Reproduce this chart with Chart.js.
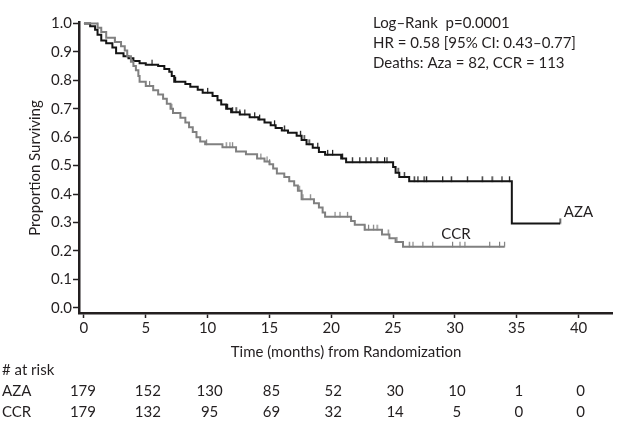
<!DOCTYPE html>
<html>
<head>
<meta charset="utf-8">
<script src="https://cdn.jsdelivr.net/npm/chart.js@4/dist/chart.umd.min.js"></script>
<style>
  html, body { margin: 0; padding: 0; background: #fff; }
  #wrap { width: 619px; height: 426px; position: relative; }
</style>
</head>
<body>
<div id="wrap"><canvas id="c"></canvas></div>
<script>
// ---- Data (Kaplan–Meier step estimates) ----
const azaTimes = [0, 0.5, 0.9, 1.1, 1.4, 1.8, 2.3, 2.6, 3.2, 3.6, 4.0, 4.5, 5.0, 6.0, 6.5, 6.9, 7.1, 7.3, 8.2, 8.6, 9.2, 9.6, 10.4, 10.8, 11.1, 11.5, 11.9, 12.6, 13.4, 14.1, 14.6, 15.1, 15.5, 16.0, 16.5, 17.2, 17.6, 18.0, 18.5, 19.0, 19.5, 20.8, 21.2, 25.0, 25.2, 25.5, 26.3, 34.6, 38.5];
const azaSurv  = [1.0, 0.99, 0.978, 0.96, 0.94, 0.93, 0.915, 0.895, 0.885, 0.878, 0.868, 0.86, 0.855, 0.85, 0.84, 0.83, 0.815, 0.795, 0.787, 0.777, 0.767, 0.756, 0.745, 0.73, 0.715, 0.70, 0.688, 0.68, 0.67, 0.662, 0.652, 0.642, 0.632, 0.624, 0.616, 0.605, 0.59, 0.575, 0.563, 0.548, 0.538, 0.525, 0.512, 0.495, 0.475, 0.46, 0.445, 0.297, 0.297];
const azaCensored = [5.5, 7.4, 10.0, 11.6, 12.0, 12.3, 12.6, 13.0, 13.8, 14.2, 15.4, 16.2, 17.5, 17.8, 18.2, 18.9, 19.7, 20.1, 20.9, 21.7, 22.3, 22.8, 23.2, 23.7, 24.3, 24.5, 25.4, 25.9, 26.7, 27.0, 27.5, 27.7, 29.0, 29.7, 31.0, 32.2, 33.0, 33.8, 34.4, 38.5];

const ccrTimes = [0, 1.1, 1.4, 1.8, 2.5, 3.0, 3.3, 3.5, 3.8, 4.0, 4.2, 4.4, 4.5, 5.0, 5.6, 6.0, 6.4, 6.7, 7.0, 7.2, 7.8, 8.2, 8.5, 8.8, 9.1, 9.4, 9.8, 11.2, 12.3, 13.1, 14.0, 14.6, 15.0, 15.3, 15.6, 16.2, 16.6, 17.0, 17.3, 17.6, 18.6, 19.0, 19.3, 19.5, 21.6, 21.9, 22.7, 24.1, 24.7, 25.2, 25.8, 34.0];
const ccrSurv  = [1.0, 0.985, 0.97, 0.95, 0.935, 0.92, 0.905, 0.885, 0.865, 0.85, 0.835, 0.815, 0.795, 0.78, 0.765, 0.75, 0.735, 0.718, 0.70, 0.685, 0.668, 0.652, 0.635, 0.618, 0.60, 0.585, 0.575, 0.565, 0.55, 0.54, 0.525, 0.515, 0.505, 0.49, 0.472, 0.46, 0.445, 0.43, 0.412, 0.382, 0.368, 0.353, 0.335, 0.32, 0.305, 0.292, 0.275, 0.258, 0.245, 0.232, 0.215, 0.215];
const ccrCensored = [1.1, 2.5, 5.3, 7.1, 9.9, 11.5, 11.8, 12.0, 14.3, 14.8, 15.0, 17.4, 17.7, 18.3, 20.3, 20.7, 21.3, 22.7, 23.0, 23.4, 23.7, 24.6, 25.3, 26.3, 26.6, 27.4, 28.2, 29.8, 30.4, 30.8, 32.8, 33.6, 34.0];

const xTickValues = [0, 5, 10, 15, 20, 25, 30, 35, 40];
const yTickValues = [0, 0.1, 0.2, 0.3, 0.4, 0.5, 0.6, 0.7, 0.8, 0.9, 1.0];

const riskTimes = [0, 5, 10, 15, 20, 25, 30, 35, 40];
const riskAza = [179, 152, 130, 85, 52, 30, 10, 1, 0];
const riskCcr = [179, 132, 95, 69, 32, 14, 5, 0, 0];

const statLines = ['Log\u2013Rank  p=0.0001', 'HR = 0.58 [95% CI: 0.43\u20130.77]', 'Deaths: Aza = 82, CCR = 113'];
const xTitle = 'Time (months) from Randomization';
const yTitle = 'Proportion Surviving';

// ---- helpers ----
function steps(times, surv) { return times.map((t, i) => ({ x: t, y: surv[i] })); }
function survAt(times, surv, t) {
  let v = surv[0];
  for (let i = 0; i < times.length; i++) { if (times[i] <= t) v = surv[i]; }
  return v;
}
function censorPts(times, surv, cens) { return cens.map(t => ({ x: t, y: survAt(times, surv, t) })); }

// upward censor tick glyph (drawn centered on the point, visible half above)
function tickGlyph(color) {
  const c = document.createElement('canvas');
  c.width = 3; c.height = 12;
  const g = c.getContext('2d');
  g.fillStyle = color;
  g.fillRect(1, 1, 1.2, 5.5);
  return c;
}

const FONT = 'Lato, "Open Sans", sans-serif';
const TXT = '#231f20';
const BLACK = '#151515';
const GRAY = '#808080';

const textPlugin = {
  id: 'texts',
  afterDraw(chart) {
    const ctx = chart.ctx;
    const xs = chart.scales.x, ys = chart.scales.y;
    ctx.save();
    ctx.fillStyle = TXT;
    ctx.font = '15px ' + FONT;
    ctx.textBaseline = 'middle';
    ctx.textAlign = 'left';
    statLines.forEach((s, i) => ctx.fillText(s, 373, 23 + i * 20));
    ctx.fillText('AZA', xs.getPixelForValue(38.8), ys.getPixelForValue(0.336));
    ctx.fillText('CCR', xs.getPixelForValue(28.9), ys.getPixelForValue(0.258));
    ctx.textAlign = 'center';
    ctx.fillText(xTitle, 346, 352);
    ctx.save();
    ctx.translate(35, 168);
    ctx.rotate(-Math.PI / 2);
    ctx.fillText(yTitle, 0, 0);
    ctx.restore();
    ctx.textAlign = 'left';
    ctx.fillText('# at risk', 2, 370);
    ctx.fillText('AZA', 2, 391);
    ctx.fillText('CCR', 2, 412);
    ctx.textAlign = 'center';
    riskTimes.forEach((t, i) => {
      const px = xs.getPixelForValue(t) + (i === 0 ? -1 : 2);
      ctx.fillText(String(riskAza[i]), px, 391);
      ctx.fillText(String(riskCcr[i]), px, 412);
    });
    ctx.restore();
  }
};

new Chart(document.getElementById('c'), {
  type: 'scatter',
  data: {
    datasets: [
      { label: 'CCR', data: steps(ccrTimes, ccrSurv), showLine: true, stepped: 'before', borderColor: GRAY, borderWidth: 2, pointRadius: 0, fill: false },
      { label: 'AZA', data: steps(azaTimes, azaSurv), showLine: true, stepped: 'before', borderColor: BLACK, borderWidth: 2, pointRadius: 0, fill: false },
      { label: 'CCR censored', data: censorPts(ccrTimes, ccrSurv, ccrCensored), showLine: false, pointStyle: tickGlyph(GRAY), pointRadius: 4, pointHoverRadius: 0 },
      { label: 'AZA censored', data: censorPts(azaTimes, azaSurv, azaCensored), showLine: false, pointStyle: tickGlyph(BLACK), pointRadius: 4, pointHoverRadius: 0 }
    ]
  },
  options: {
    responsive: true,
    maintainAspectRatio: false,
    animation: false,
    layout: { padding: { top: 22, right: 7, left: 0, bottom: 0 } },
    plugins: { legend: { display: false }, tooltip: { enabled: false }, title: { display: false } },
    events: [],
    scales: {
      x: {
        type: 'linear', min: -0.4, max: 42.7,
        afterBuildTicks(s) { s.ticks = xTickValues.map(v => ({ value: v })); },
        afterFit(s) { s.height = 113; },
        ticks: { font: { family: FONT, size: 15 }, color: TXT, padding: 1, maxRotation: 0, callback: v => String(v) },
        grid: { display: true, drawOnChartArea: false, drawTicks: true, tickLength: 5, tickColor: TXT, tickWidth: 1.5 },
        border: { display: true, color: TXT, width: 2.5 }
      },
      y: {
        type: 'linear', min: -0.018, max: 1.005,
        afterBuildTicks(s) { s.ticks = yTickValues.map(v => ({ value: v })); },
        afterFit(s) { s.width = 79; },
        ticks: { font: { family: FONT, size: 15 }, color: TXT, padding: 1, callback: v => v.toFixed(1) },
        grid: { display: true, drawOnChartArea: false, drawTicks: true, tickLength: 6, tickColor: TXT, tickWidth: 1.5 },
        border: { display: true, color: TXT, width: 2.5 }
      }
    }
  },
  plugins: [textPlugin]
});
</script>
</body>
</html>
